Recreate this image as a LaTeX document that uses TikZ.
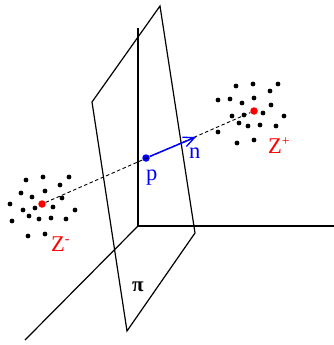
\documentclass[tikz,border=0pt]{standalone}
\usepackage{fontspec}
\setmainfont{Liberation Serif}
\usetikzlibrary{arrows.meta}
\tikzset{
  x=1pt,y=-1pt,
  edge/.style={draw=black,line width=1.2pt,line join=miter},
  blk/.style={fill=black,draw=none,circle,minimum size=4.8pt,inner sep=0pt},
  cen/.style={fill=red,draw=none,circle,minimum size=7.5pt,inner sep=0pt},
  pnt/.style={fill=blue,draw=none,circle,minimum size=7.5pt,inner sep=0pt},
  lab/.style={inner sep=0pt,font=\fontsize{22.5}{24}\selectfont}
}
\begin{document}
\begin{tikzpicture}
\useasboundingbox (0,0) rectangle (334,345);
\coordinate (o) at (138,226);
\coordinate (ztop) at (138,28);
\coordinate (xend) at (334,226);
\coordinate (yend) at (25,340);
\coordinate (a) at (160,6);
\coordinate (b) at (92,102);
\coordinate (c) at (127,331);
\coordinate (d) at (195,233);
\coordinate (tip) at (196,137);
\draw[edge] (ztop) -- (o) -- (xend);
\draw[edge] (o) -- (yend);
\draw[edge] (a) -- (b) -- (c) -- (d) -- cycle;
\node[cen] (zm) at (42,204) {};
\node[cen] (zp) at (254,111) {};
\node[pnt] (p) at (146,158) {};
\draw[black,line width=0.9pt,dash pattern=on 3.5pt off 2.5pt] (zm) -- (zp);
\draw[blue,line width=1.5pt,-{Straight Barb[length=11pt,width=10pt,line width=1.3pt]}] (p) -- (tip);
\foreach \i/\x/\y in {1/26/180,2/43/177,3/69/177,4/60/185,5/21/193,6/45/191,7/32/197,8/62/198,9/10/204,10/23/210,11/35/208,12/53/207,13/75/210,14/12/221,15/29/216,16/39/219,17/51/218,18/66/219,19/28/236,20/45/234}
  \node[blk] (l\i) at (\x,\y) {};
\foreach \i/\x/\y in {1/236/86,2/253/84,3/278/84,4/270/91,5/218/100,6/230/99,7/254/98,8/242/103,9/271/105,10/263/113,11/232/116,12/244/115,13/284/116,14/239/123,15/248/126,16/260/125,17/276/126,18/218/132,19/237/143,20/254/140}
  \node[blk] (r\i) at (\x,\y) {};
\node[lab,red,anchor=base west] (zml) at (51,251) {Z\raisebox{8pt}{\fontsize{14}{15}\selectfont -}};
\node[lab,red,anchor=base west] (zpl) at (268,153) {Z\raisebox{8pt}{\fontsize{14}{15}\selectfont +}};
\node[lab,blue,anchor=base west] (pl) at (146,180) {p};
\node[lab,blue,anchor=base west] (nl) at (189,158) {n};
\node[inner sep=0pt,anchor=base west,font=\fontsize{21}{22}\selectfont\bfseries] (pi) at (132,291) {π};
\end{tikzpicture}
\end{document}
